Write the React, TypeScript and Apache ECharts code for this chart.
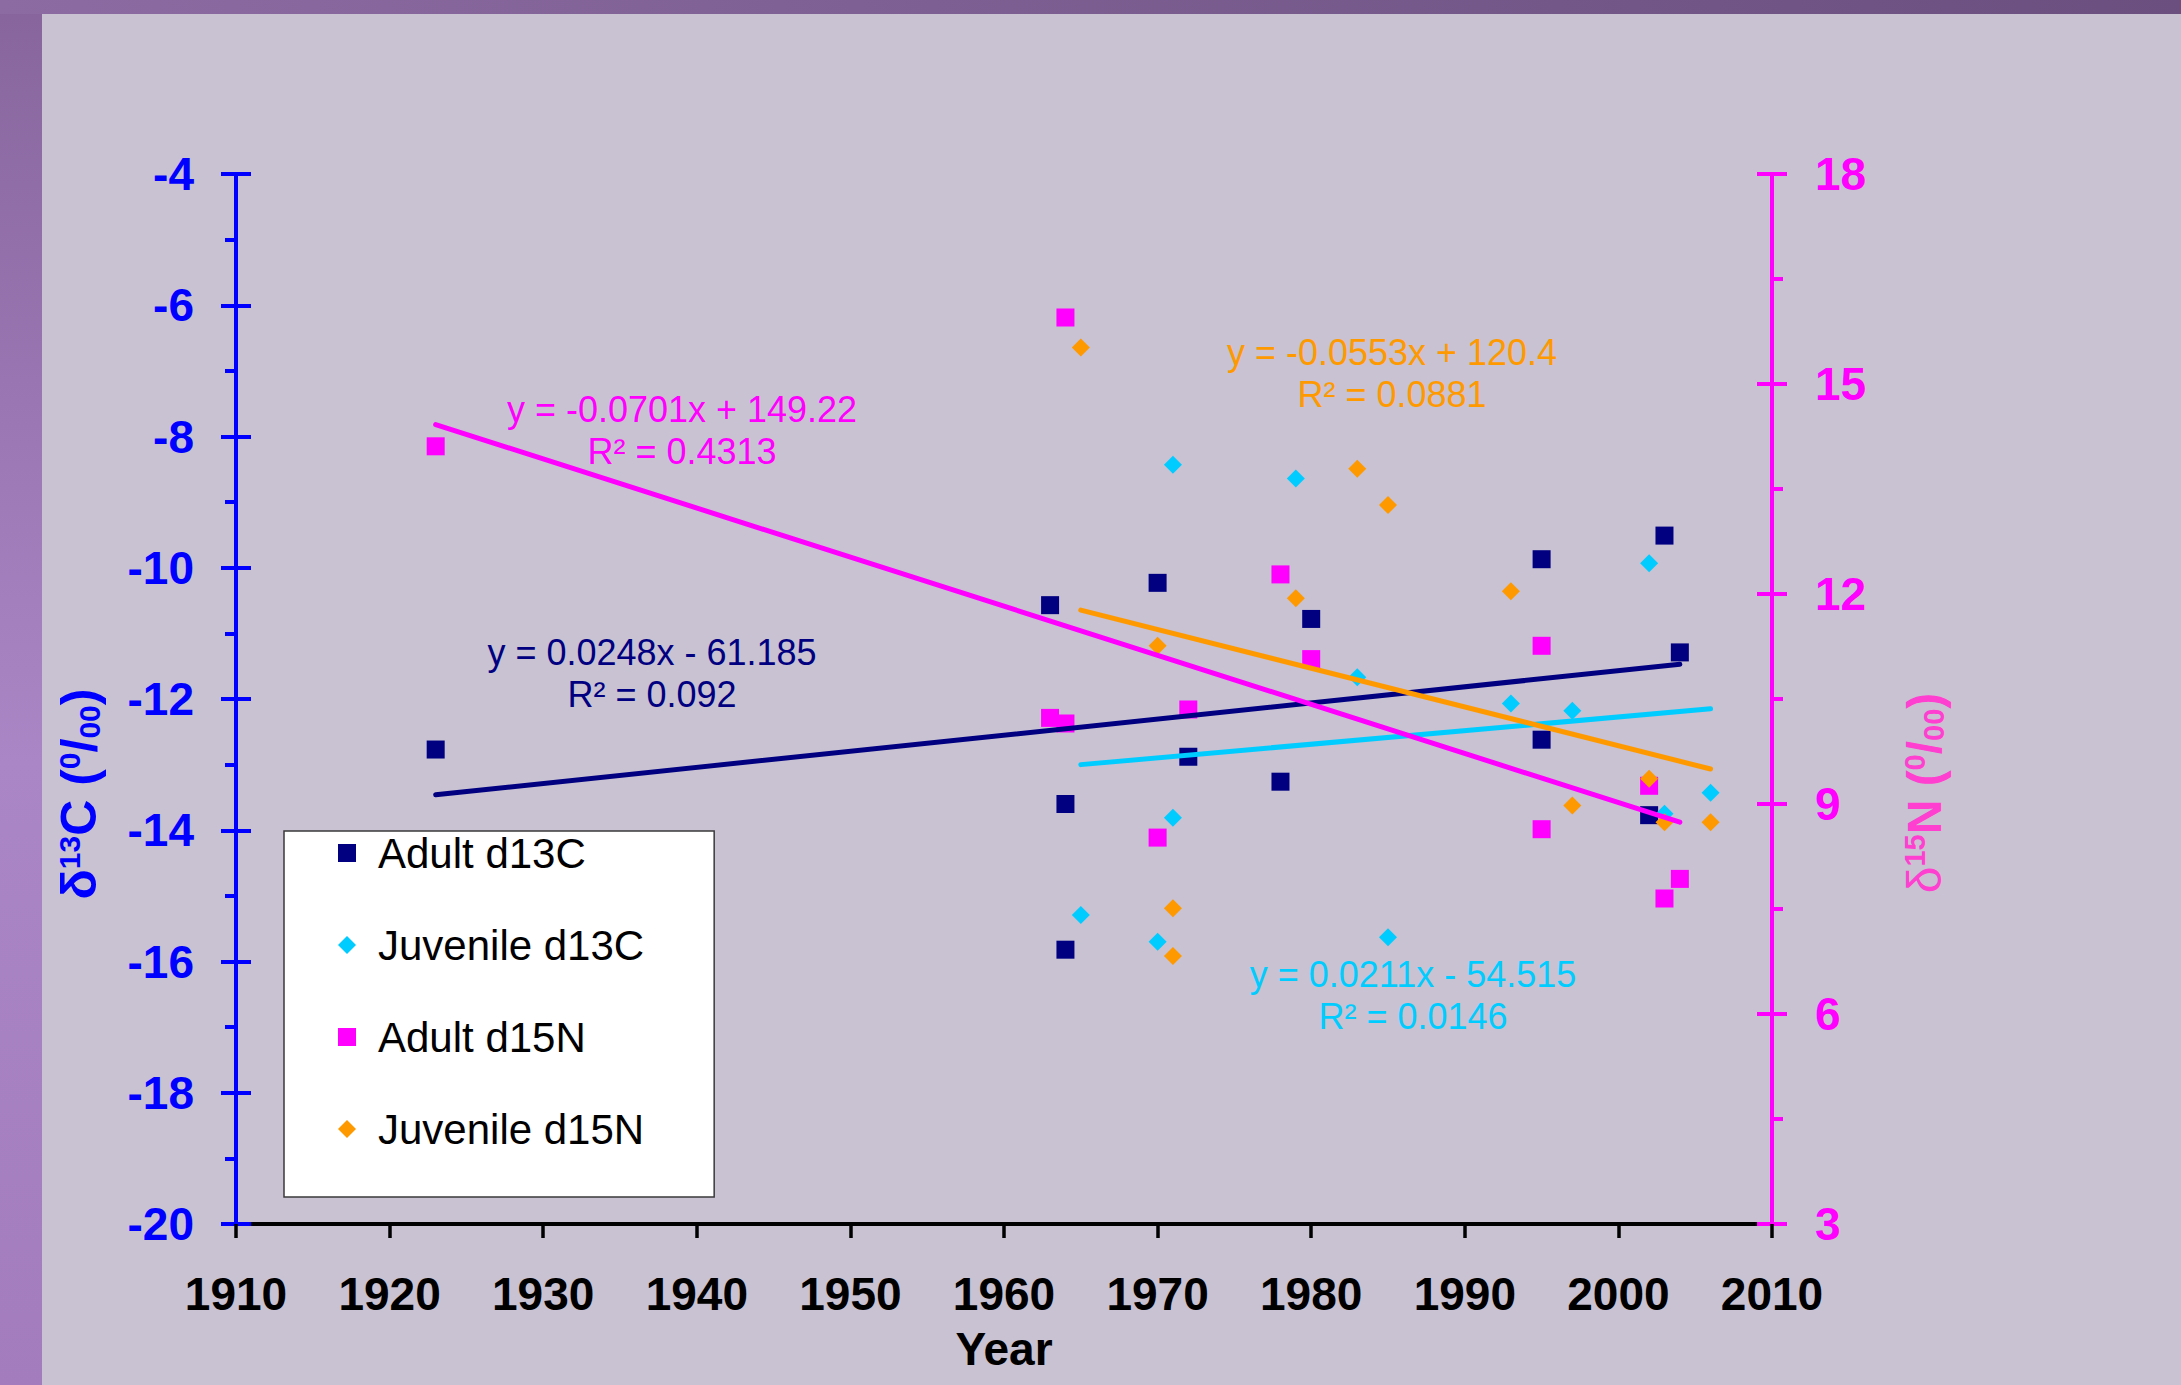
import React, { useEffect, useRef } from "react";
import * as echarts from "echarts";

const FONT = "Liberation Sans, Arial, Helvetica, sans-serif";

// [year, value]
const adultD13C: [number, number][] = [
  [1923, -12.77], [1963, -10.57], [1964, -13.6], [1964, -15.82], [1970, -10.23],
  [1972, -12.88], [1978, -13.26], [1980, -10.78], [1995, -9.87], [1995, -12.62],
  [2002, -13.77], [2003, -9.51], [2004, -11.29],
];
const juvenileD13C: [number, number][] = [
  [1965, -15.29], [1970, -15.7], [1971, -8.43], [1971, -13.81], [1979, -8.64],
  [1983, -11.67], [1985, -15.63], [1993, -12.07], [1997, -12.18], [2002, -9.93],
  [2003, -13.75], [2006, -13.43],
];
const adultD15N: [number, number][] = [
  [1923, 14.11], [1963, 10.23], [1964, 15.95], [1964, 10.15], [1970, 8.52],
  [1972, 10.35], [1978, 12.28], [1980, 11.07], [1995, 11.26], [1995, 8.64],
  [2002, 9.26], [2003, 7.65], [2004, 7.93],
];
const juvenileD15N: [number, number][] = [
  [1965, 15.52], [1970, 11.26], [1971, 7.51], [1971, 6.83], [1979, 11.94],
  [1983, 13.79], [1985, 13.27], [1993, 12.04], [1997, 8.98], [2002, 9.36],
  [2003, 8.74], [2006, 8.74],
];

// trend line end points
const trendAdultD13C: [number, number][] = [[1923, -13.46], [2004, -11.47]];
const trendJuvenileD13C: [number, number][] = [[1965, -13.0], [2006, -12.15]];
const trendAdultD15N: [number, number][] = [[1923, 14.42], [2004, 8.74]];
const trendJuvenileD15N: [number, number][] = [[1965, 11.77], [2006, 9.5]];

const eqAdultD13C = "y = 0.0248x - 61.185\nR² = 0.092";
const eqJuvenileD13C = "y = 0.0211x - 54.515\nR² = 0.0146";
const eqAdultD15N = "y = -0.0701x + 149.22\nR² = 0.4313";
const eqJuvenileD15N = "y = -0.0553x + 120.4\nR² = 0.0881";

const seriesNames = ["Adult d13C", "Juvenile d13C", "Adult d15N", "Juvenile d15N"];

const NAVY = "#000080";
const CYAN = "#00ccff";
const MAGENTA = "#ff00ff";
const ORANGE = "#ff9900";
const BLUE = "#0000ff";
const PINK = "#ff3fd0";

function eqText(x: number, y: number, text: string, color: string) {
  return {
    type: "text",
    x,
    y,
    z: 10,
    silent: true,
    style: {
      text,
      fill: color,
      fontSize: 36,
      fontFamily: FONT,
      lineHeight: 42,
      align: "center",
      verticalAlign: "middle",
      textAlign: "center",
      textVerticalAlign: "middle",
    },
  };
}

export default function App() {
  const ref = useRef<HTMLDivElement>(null);
  useEffect(() => {
    if (!ref.current) return;
    const chart = echarts.init(ref.current, null, { renderer: "svg" });
    const yAxisCommon = (color: string) => ({
      axisLine: { show: true, onZero: false, lineStyle: { color, width: 4 } },
      axisTick: { show: true, length: 15, lineStyle: { color, width: 4 } },
      minorTick: { show: true, splitNumber: 2, length: 11, lineStyle: { color, width: 4 } },
      splitLine: { show: false },
      minorSplitLine: { show: false },
    });
    const innerTicks = (color: string) => ({
      axisLine: { show: false },
      axisTick: { show: true, inside: true, length: 15, lineStyle: { color, width: 4 } },
      axisLabel: { show: false },
      splitLine: { show: false },
    });
    const plain = (v: number) => String(v);
    chart.setOption({
      animation: false,
      backgroundColor: "#c8c2d2",
      grid: { left: 236, right: 409, top: 174, bottom: 161, containLabel: false },
      legend: {
        data: seriesNames,
        orient: "vertical",
        left: 284,
        top: 831,
        itemWidth: 18,
        itemHeight: 18,
        itemGap: 50,
        padding: [1, 70, 47, 54],
        backgroundColor: "#ffffff",
        borderColor: "#3a3a3a",
        borderWidth: 1.5,
        selectedMode: false,
        textStyle: { fontSize: 42, color: "#000", fontFamily: FONT, padding: [0, 0, 0, 17] },
      },
      xAxis: {
        type: "value",
        min: 1910,
        max: 2010,
        interval: 10,
        name: "Year",
        nameLocation: "middle",
        nameGap: 102,
        nameTextStyle: { color: "#000", fontSize: 46, fontWeight: "bold", fontFamily: FONT },
        axisLine: { show: true, onZero: false, lineStyle: { color: "#000", width: 4 } },
        axisTick: { show: true, length: 14, lineStyle: { color: "#000", width: 3.5 } },
        axisLabel: { color: "#000", fontSize: 46, fontWeight: "bold", fontFamily: FONT, margin: 47, interval: 0, formatter: plain },
        splitLine: { show: false },
      },
      yAxis: [
        { type: "value", position: "left", min: -20, max: -4, interval: 2, ...yAxisCommon(BLUE),
          axisLabel: { color: BLUE, fontSize: 46, fontWeight: "bold", fontFamily: FONT, margin: 42, formatter: plain } },
        { type: "value", position: "right", min: 3, max: 18, interval: 3, ...yAxisCommon(MAGENTA),
          axisLabel: { color: MAGENTA, fontSize: 46, fontWeight: "bold", fontFamily: FONT, margin: 43, formatter: plain } },
        { type: "value", position: "left", min: -20, max: -4, interval: 2, ...innerTicks(BLUE) },
        { type: "value", position: "right", min: 3, max: 18, interval: 3, ...innerTicks(MAGENTA) },
      ],
      series: [
        { name: seriesNames[0], type: "scatter", yAxisIndex: 0, symbol: "rect", symbolSize: 18, itemStyle: { color: NAVY, opacity: 1 }, data: adultD13C, z: 3 },
        { name: seriesNames[1], type: "scatter", yAxisIndex: 0, symbol: "diamond", symbolSize: 18, itemStyle: { color: CYAN, opacity: 1 }, data: juvenileD13C, z: 3 },
        { name: seriesNames[2], type: "scatter", yAxisIndex: 1, symbol: "rect", symbolSize: 18, itemStyle: { color: MAGENTA, opacity: 1 }, data: adultD15N, z: 3 },
        { name: seriesNames[3], type: "scatter", yAxisIndex: 1, symbol: "diamond", symbolSize: 18, itemStyle: { color: ORANGE, opacity: 1 }, data: juvenileD15N, z: 3 },
        { type: "line", yAxisIndex: 0, data: trendAdultD13C, showSymbol: false, symbol: "none", lineStyle: { color: NAVY, width: 5, cap: "round" }, z: 4 },
        { type: "line", yAxisIndex: 0, data: trendJuvenileD13C, showSymbol: false, symbol: "none", lineStyle: { color: CYAN, width: 5, cap: "round" }, z: 4 },
        { type: "line", yAxisIndex: 1, data: trendAdultD15N, showSymbol: false, symbol: "none", lineStyle: { color: MAGENTA, width: 5, cap: "round" }, z: 4 },
        { type: "line", yAxisIndex: 1, data: trendJuvenileD15N, showSymbol: false, symbol: "none", lineStyle: { color: ORANGE, width: 5, cap: "round" }, z: 4 },
      ],
      graphic: [
        {
          type: "rect",
          z: -10,
          silent: true,
          shape: { x: 0, y: 0, width: 42, height: 1385 },
          style: {
            fill: new echarts.graphic.LinearGradient(0, 0, 0, 1, [
              { offset: 0, color: "#87659c" },
              { offset: 0.55, color: "#ab86c6" },
              { offset: 1, color: "#a27cbc" },
            ]),
          },
        },
        {
          type: "rect",
          z: -10,
          silent: true,
          shape: { x: 0, y: 0, width: 2181, height: 14 },
          style: {
            fill: new echarts.graphic.LinearGradient(0, 0, 1, 0, [
              { offset: 0, color: "#8c6ba2" },
              { offset: 1, color: "#6a4f7f" },
            ]),
          },
        },
        {
          type: "text",
          x: 79,
          y: 794,
          rotation: Math.PI / 2,
          silent: true,
          style: {
            text: "{m|δ}{s|13}{m|C (}{s|0}{m|/}{b|00}{m|)}",
            align: "center",
            verticalAlign: "middle",
            textAlign: "center",
            textVerticalAlign: "middle",
            fill: BLUE,
            rich: {
              m: { fill: BLUE, fontSize: 50, fontWeight: "bold", fontFamily: FONT },
              s: { fill: BLUE, fontSize: 30, fontWeight: "bold", fontFamily: FONT, verticalAlign: "top" },
              b: { fill: BLUE, fontSize: 30, fontWeight: "bold", fontFamily: FONT, verticalAlign: "bottom" },
            },
          },
        },
        {
          type: "text",
          x: 1924,
          y: 793,
          rotation: Math.PI / 2,
          silent: true,
          style: {
            text: "{d|δ}{s|15}{m|N (}{s|0}{m|/}{b|00}{m|)}",
            align: "center",
            verticalAlign: "middle",
            textAlign: "center",
            textVerticalAlign: "middle",
            fill: PINK,
            rich: {
              d: { fill: PINK, fontSize: 48, fontFamily: FONT },
              m: { fill: PINK, fontSize: 48, fontWeight: "bold", fontFamily: FONT },
              s: { fill: PINK, fontSize: 29, fontWeight: "bold", fontFamily: FONT, verticalAlign: "top" },
              b: { fill: PINK, fontSize: 29, fontWeight: "bold", fontFamily: FONT, verticalAlign: "bottom" },
            },
          },
        },
        eqText(682, 430, eqAdultD15N, MAGENTA),
        eqText(1392, 373, eqJuvenileD15N, ORANGE),
        eqText(652, 673, eqAdultD13C, NAVY),
        eqText(1413, 995, eqJuvenileD13C, CYAN),
      ],
    });
    return () => chart.dispose();
  }, []);
  return (
    <div
      ref={ref}
      style={{ position: "absolute", left: 0, top: 0, width: 2181, height: 1385 }}
    />
  );
}
